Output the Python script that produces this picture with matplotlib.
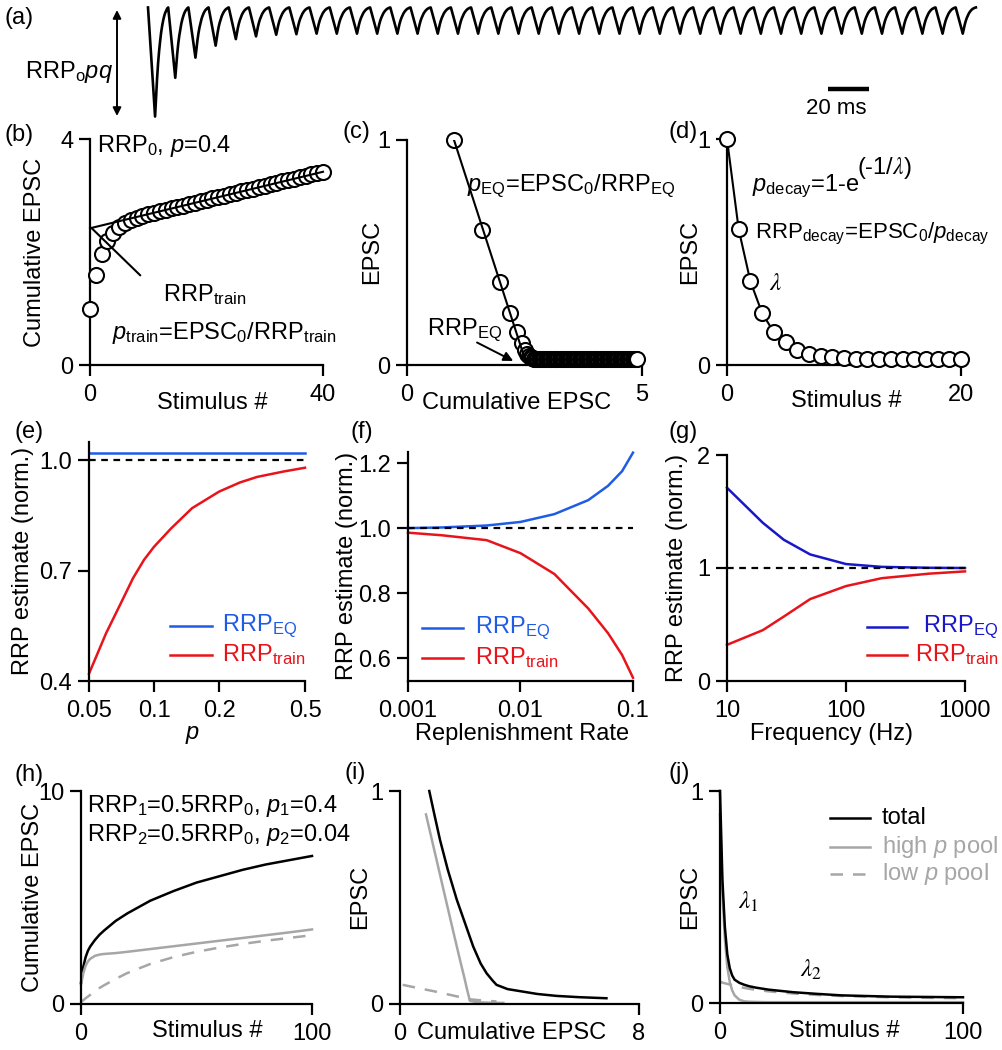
"""
Depression-train figure: RRP estimates from train, EQ and decay methods.
Panels (a)-(j), laid out on a 1002 x 1050 px canvas.
"""

import numpy as np
import matplotlib
matplotlib.use("Agg")
import matplotlib.pyplot as plt
from matplotlib.lines import Line2D
from matplotlib.ticker import NullLocator

plt.rcParams["font.family"] = ["Liberation Sans", "DejaVu Sans"]
plt.rcParams["font.size"] = 17
plt.rcParams["mathtext.fontset"] = "custom"
plt.rcParams["mathtext.rm"] = "Liberation Sans"
plt.rcParams["mathtext.it"] = "Liberation Sans:italic"
plt.rcParams["mathtext.bf"] = "Liberation Sans:bold"
plt.rcParams["mathtext.sf"] = "Liberation Sans"

W, H = 1002, 1050
BLUE  = "#1f5ce6"
NAVY  = "#1818c8"
RED   = "#e8141c"
GRAY  = "#a6a6a6"

# ── (a) example EPSC train, 100 Hz ───────────────────────────────────────────
STIM_INTERVAL_MS = 10
TRAIN_AMPS = [1.00, 0.645, 0.46, 0.35, 0.29, 0.265, 0.25, 0.245, 0.24, 0.24,
              0.24, 0.24, 0.24, 0.24, 0.24, 0.24, 0.24, 0.24, 0.24, 0.24,
              0.24, 0.24, 0.24, 0.24, 0.24, 0.24, 0.24, 0.24, 0.24, 0.24,
              0.24, 0.24, 0.24, 0.24, 0.24, 0.24, 0.24, 0.24, 0.24, 0.24,
              0.24]
# single-EPSC waveform (ms, normalised)
KERNEL_T = [0, 0.5, 1.0, 1.5, 2.0, 2.5, 3.0, 3.5, 4.0, 4.5,
            5.0, 5.5, 6.0, 6.5, 7.0, 7.5, 8.0, 8.5, 9.0, 9.5]
KERNEL_V = [0, -0.14, -0.28, -0.43, -0.57, -0.71, -0.86, -1.0, -0.82, -0.65,
            -0.51, -0.40, -0.31, -0.23, -0.17, -0.12, -0.08, -0.05, -0.03, -0.01]

# ── (b)-(d) single pool, p = 0.4: EPSC per stimulus (norm. to first) ────────
EPSC_SINGLE = [1.00, 0.60, 0.37, 0.23, 0.145, 0.10, 0.068, 0.05, 0.04, 0.034,
               0.030, 0.028, 0.027, 0.026, 0.025, 0.025, 0.025, 0.025, 0.025, 0.025,
               0.025, 0.025, 0.025, 0.025, 0.025, 0.025, 0.025, 0.025, 0.025, 0.025,
               0.025, 0.025, 0.025, 0.025, 0.025, 0.025, 0.025, 0.025, 0.025, 0.025,
               0.025, 0.025, 0.025, 0.025, 0.025, 0.025, 0.025, 0.025, 0.025, 0.025,
               0.025, 0.025, 0.025, 0.025, 0.025, 0.025, 0.025, 0.025, 0.025, 0.025,
               0.025, 0.025, 0.025, 0.025, 0.025, 0.025, 0.025, 0.025, 0.025, 0.025,
               0.025, 0.025, 0.025, 0.025, 0.025, 0.025, 0.025, 0.025, 0.025, 0.025,
               0.025, 0.025, 0.025, 0.025, 0.025, 0.025, 0.025, 0.025, 0.025, 0.025,
               0.025, 0.025, 0.025, 0.025, 0.025, 0.025, 0.025, 0.025, 0.025, 0.025]
N_STIM_B = 41
N_STIM_D = 21
FIT_B_X = [0, 40]
FIT_B_Y = [2.42, 3.42]
POINTER_B_X = [8.6, 0.3]
POINTER_B_Y = [1.59, 2.42]
FIT_C_X = [1.0, 2.55]
FIT_C_Y = [1.0, 0.0]

# ── (e) error vs release probability ────────────────────────────────────────
E_P        = [0.05, 0.06, 0.07, 0.08, 0.09, 0.10, 0.12, 0.15, 0.20, 0.25, 0.30, 0.40, 0.50]
E_RRP_EQ   = [1.02, 1.02, 1.02, 1.02, 1.02, 1.02, 1.02, 1.02, 1.02, 1.02, 1.02, 1.02, 1.02]
E_RRP_TRN  = [0.42, 0.53, 0.61, 0.68, 0.73, 0.765, 0.815, 0.87, 0.915, 0.94, 0.955, 0.97, 0.98]

# ── (f) error vs replenishment rate ─────────────────────────────────────────
F_RATE     = [0.001, 0.002, 0.005, 0.01, 0.02, 0.04, 0.06, 0.08, 0.1]
F_RRP_EQ   = [1.000, 1.002, 1.008, 1.019, 1.043, 1.086, 1.130, 1.175, 1.232]
F_RRP_TRN  = [0.986, 0.978, 0.963, 0.923, 0.859, 0.753, 0.677, 0.61, 0.54]

# ── (g) error vs stimulus frequency ─────────────────────────────────────────
G_FREQ     = [10, 20, 30, 50, 100, 200, 500, 1000]
G_RRP_EQ   = [1.71, 1.40, 1.25, 1.12, 1.035, 1.01, 1.002, 1.00]
G_RRP_TRN  = [0.32, 0.45, 0.57, 0.725, 0.84, 0.91, 0.95, 0.97]

# ── (h)-(j) two pools: high p (0.4) and low p (0.04) ─────────────────────────
H_STIM       = [0, 1, 2, 3, 4, 6, 8, 10, 15, 20, 30, 40, 50, 60, 70, 80, 90, 100]
H_CUM_TOTAL  = [1.0, 1.75, 2.2, 2.5, 2.7, 3.0, 3.25, 3.45, 3.9, 4.25, 4.85, 5.3, 5.7, 6.0, 6.3, 6.55, 6.75, 6.95]
H_CUM_HIGH   = [0.91, 1.45, 1.8, 2.0, 2.12, 2.26, 2.32, 2.35, 2.39, 2.45, 2.58, 2.71, 2.84, 2.97, 3.1, 3.23, 3.36, 3.5]
H_CUM_LOW    = [0.09, 0.18, 0.27, 0.35, 0.43, 0.6, 0.75, 0.88, 1.18, 1.45, 1.88, 2.2, 2.45, 2.65, 2.82, 2.97, 3.1, 3.23]

I_TOTAL_X = [0.98, 1.15, 1.34, 1.6, 1.9, 2.2, 2.45, 2.7, 2.9, 3.1, 3.23, 3.6, 4.12, 4.6, 5.24, 6.0, 6.91]
I_TOTAL_Y = [1.0, 0.89, 0.77, 0.63, 0.49, 0.37, 0.27, 0.19, 0.144, 0.11, 0.09, 0.07, 0.058, 0.047, 0.038, 0.032, 0.027]
I_HIGH_X  = [0.87, 1.45, 1.8, 2.02, 2.16, 2.25, 2.34, 2.6, 3.0, 3.46]
I_HIGH_Y  = [0.89, 0.54, 0.33, 0.2, 0.12, 0.065, 0.015, 0.008, 0.006, 0.005]
I_LOW_X   = [0.09, 0.6, 1.2, 1.8, 2.34, 2.8, 3.23]
I_LOW_Y   = [0.09, 0.075, 0.058, 0.039, 0.022, 0.016, 0.012]

J_STIM  = [0, 1, 2, 3, 4, 5, 6, 8, 10, 12, 15, 20, 30, 40, 50, 60, 70, 80, 90, 100]
J_TOTAL = [1.0, 0.58, 0.36, 0.23, 0.165, 0.13, 0.11, 0.095, 0.086, 0.079, 0.072, 0.063, 0.051, 0.043, 0.036, 0.033, 0.030, 0.029, 0.028, 0.027]
J_HIGH  = [0.89, 0.52, 0.30, 0.17, 0.10, 0.06, 0.036, 0.015, 0.008, 0.006, 0.005, 0.004, 0.004, 0.004, 0.004, 0.004, 0.004, 0.004, 0.004, 0.004]
J_LOW   = [0.10, 0.096, 0.093, 0.090, 0.087, 0.084, 0.081, 0.076, 0.071, 0.067, 0.062, 0.055, 0.045, 0.038, 0.033, 0.030, 0.027, 0.025, 0.024, 0.023]


# ─────────────────────────────────────────────────────────────────────────────
fig = plt.figure(figsize=(W / 100, H / 100), dpi=100)


def px_ax(l, t, r, b):
    """Axes from a pixel box (left, top, right, bottom), origin top-left."""
    return fig.add_axes([l / W, 1 - b / H, (r - l) / W, (b - t) / H])


def ftext(x, y, s, **kw):
    kw.setdefault("va", "center")
    return fig.text(x / W, 1 - y / H, s, **kw)


def fline(x0, x1, y, **kw):
    fig.add_artist(Line2D([x0 / W, x1 / W], [1 - y / H, 1 - y / H],
                          transform=fig.transFigure, **kw))


def style(ax, xticks, yticks, xlabels=None, ylabels=None):
    for s in ("top", "right"):
        ax.spines[s].set_visible(False)
    for s in ("left", "bottom"):
        ax.spines[s].set_linewidth(1.6)
    ax.tick_params(direction="out", length=8, width=1.6, labelsize=17, pad=6)
    ax.set_xticks(xticks)
    ax.set_yticks(yticks)
    if xlabels is not None:
        ax.set_xticklabels(xlabels)
    if ylabels is not None:
        ax.set_yticklabels(ylabels)
    ax.tick_params(axis="y", pad=4)
    ax.xaxis.set_minor_locator(NullLocator())
    ax.yaxis.set_minor_locator(NullLocator())
    ax.patch.set_alpha(0)


circ = dict(marker="o", ms=10.8, mfc="white", mec="black", mew=1.5,
            ls="none", clip_on=False, zorder=3)

# (a) ------------------------------------------------------------------------
ax = px_ax(148, 2, 988, 122)
t_all = np.concatenate([STIM_INTERVAL_MS * k + np.array(KERNEL_T) for k in range(len(TRAIN_AMPS))]
                       + [[STIM_INTERVAL_MS * len(TRAIN_AMPS)]])
v_all = np.concatenate([a * np.array(KERNEL_V) for a in TRAIN_AMPS] + [[0.0]])
ax.plot(t_all, v_all, color="black", lw=1.9, clip_on=False)
ax.set_xlim(0, 416)
ax.set_ylim(-1.05, 0.05)
ax.axis("off")
ax.plot([337, 357], [-0.75, -0.75], color="black", lw=3.2, solid_capstyle="butt", clip_on=False)
ax.text(341, -0.93, "20 ms", ha="center", va="center", fontsize=16)
ax.annotate("", xy=(117 / W, 1 - 10 / H), xytext=(117 / W, 1 - 116 / H),
            xycoords="figure fraction", textcoords="figure fraction",
            arrowprops=dict(arrowstyle="<|-|>", color="black", lw=1.4,
                            mutation_scale=12, shrinkA=0, shrinkB=0),
            annotation_clip=False)
ftext(113, 72, r"RRP$_{\rm o}$$pq$", ha="right", fontsize=17)
ftext(5, 18, "(a)", fontsize=17)

# (b) ------------------------------------------------------------------------
epsc = np.array(EPSC_SINGLE)
cum = np.cumsum(epsc)
ax = px_ax(90, 139, 323, 365)
ax.plot(np.arange(N_STIM_B), cum[:N_STIM_B], **circ)
ax.plot(FIT_B_X, FIT_B_Y, color="black", lw=1.5, zorder=4, clip_on=False)
ax.plot(POINTER_B_X, POINTER_B_Y, color="black", lw=1.5, zorder=4, clip_on=False)
ax.set_xlim(0, 40)
ax.set_ylim(0, 4)
style(ax, [0, 40], [0, 4])
ftext(97, 146, r"RRP$_0$, $p$=0.4", fontsize=17)
ftext(163, 295, r"RRP$_{\rm train}$", fontsize=17)
ftext(112, 333, r"$p_{\rm train}$=EPSC$_0$/RRP$_{\rm train}$", fontsize=17)
ftext(35, 252, "Cumulative EPSC", rotation=90, ha="center", fontsize=17)
ftext(212, 403, "Stimulus #", ha="center", fontsize=17)
ftext(5, 135, "(b)", fontsize=17)

# (c) ------------------------------------------------------------------------
ax = px_ax(407, 140, 642, 365)
ax.plot(cum, epsc, **circ)
ax.plot(FIT_C_X, FIT_C_Y, color="black", lw=1.5, zorder=4)
ax.annotate("", xy=(2.26, 0.018), xytext=(1.49, 0.10),
            arrowprops=dict(arrowstyle="-|>", color="black", lw=1.4,
                            mutation_scale=14, shrinkA=0, shrinkB=0))
ax.set_xlim(0, 5)
ax.set_ylim(0, 1)
style(ax, [0, 5], [0, 1])
ftext(467, 186, r"$p_{\rm EQ}$=EPSC$_0$/RRP$_{\rm EQ}$", fontsize=17)
ftext(427, 330, r"RRP$_{\rm EQ}$", fontsize=17)
ftext(372, 252, "EPSC", rotation=90, ha="center", fontsize=17)
ftext(517, 403, "Cumulative EPSC", ha="center", fontsize=17)
ftext(343, 132, "(c)", fontsize=17)

# (d) ------------------------------------------------------------------------
ax = px_ax(727, 139, 961, 365)
ax.plot(np.arange(N_STIM_D), epsc[:N_STIM_D], color="black", lw=1.5, zorder=2, clip_on=False)
ax.plot(np.arange(N_STIM_D), epsc[:N_STIM_D], **circ)
ax.set_xlim(0, 20)
ax.set_ylim(0, 1)
style(ax, [0, 20], [0, 1])
ftext(752, 186, r"$p_{\rm decay}$=1-e", fontsize=17)
ftext(857, 168, r"(-1/$\lambda$)", fontsize=17, math_fontfamily="stix")
ftext(755, 234, r"RRP$_{\rm decay}$=EPSC$_0$/$p_{\rm decay}$", fontsize=16)
ftext(769, 283, r"$\lambda$", fontsize=18, math_fontfamily="stix")
ftext(690, 252, "EPSC", rotation=90, ha="center", fontsize=17)
ftext(846, 401, "Stimulus #", ha="center", fontsize=17)
ftext(668, 132, "(d)", fontsize=17)

# (e) ------------------------------------------------------------------------
ax = px_ax(89, 442, 305, 681)
ax.set_xscale("log")
ax.plot(E_P, E_RRP_EQ, color=BLUE, lw=1.8, clip_on=False)
ax.plot(E_P, E_RRP_TRN, color=RED, lw=1.8, clip_on=False)
ax.plot([E_P[0], E_P[-1]], [1.0, 1.0], color="black", lw=1.6, ls=(0, (3, 2.5)))
ax.set_xlim(0.05, 0.5)
ax.set_ylim(0.4, 1.05)
style(ax, [0.05, 0.1, 0.2, 0.5], [0.4, 0.7, 1.0], ["0.05", "0.1", "0.2", "0.5"], ["0.4", "0.7", "1.0"])
fline(170, 212, 626, color=BLUE, lw=1.8)
fline(170, 212, 655, color=RED, lw=1.8)
ftext(222, 626, r"RRP$_{\rm EQ}$", color=BLUE, fontsize=17)
ftext(222, 655, r"RRP$_{\rm train}$", color=RED, fontsize=17)
ftext(23, 561, "RRP estimate (norm.)", rotation=90, ha="center", fontsize=17)
ftext(192, 735, r"$p$", ha="center", fontsize=17)
ftext(14, 432, "(e)", fontsize=17)

# (f) ------------------------------------------------------------------------
ax = px_ax(408, 452, 633, 681)
ax.set_xscale("log")
ax.plot(F_RATE, F_RRP_EQ, color=BLUE, lw=1.8, clip_on=False)
ax.plot(F_RATE, F_RRP_TRN, color=RED, lw=1.8, clip_on=False)
ax.plot([F_RATE[0], F_RATE[-1]], [1.0, 1.0], color="black", lw=1.6, ls=(0, (3, 2.5)))
ax.set_xlim(0.001, 0.1)
ax.set_ylim(0.53, 1.234)
style(ax, [0.001, 0.01, 0.1], [0.6, 0.8, 1.0, 1.2], ["0.001", "0.01", "0.1"], ["0.6", "0.8", "1.0", "1.2"])
fline(422, 463, 628, color=BLUE, lw=1.8)
fline(422, 463, 658, color=RED, lw=1.8)
ftext(475, 628, r"RRP$_{\rm EQ}$", color=BLUE, fontsize=17)
ftext(475, 658, r"RRP$_{\rm train}$", color=RED, fontsize=17)
ftext(347, 566, "RRP estimate (norm.)", rotation=90, ha="center", fontsize=17)
ftext(522, 734, "Replenishment Rate", ha="center", fontsize=17)
ftext(350, 432, "(f)", fontsize=17)

# (g) ------------------------------------------------------------------------
ax = px_ax(727, 455, 965, 681)
ax.set_xscale("log")
ax.plot(G_FREQ, G_RRP_EQ, color=NAVY, lw=1.8, clip_on=False)
ax.plot(G_FREQ, G_RRP_TRN, color=RED, lw=1.8, clip_on=False)
ax.plot([G_FREQ[0], G_FREQ[-1]], [1.0, 1.0], color="black", lw=1.6, ls=(0, (3, 2.5)))
ax.set_xlim(10, 1000)
ax.set_ylim(0, 2)
style(ax, [10, 100, 1000], [0, 1, 2], ["10", "100", "1000"], ["0", "1", "2"])
fline(867, 907, 627, color=NAVY, lw=1.8)
fline(867, 907, 655, color=RED, lw=1.8)
ftext(923, 627, r"RRP$_{\rm EQ}$", color=NAVY, fontsize=17)
ftext(915, 655, r"RRP$_{\rm train}$", color=RED, fontsize=17)
ftext(677, 568, "RRP estimate (norm.)", rotation=90, ha="center", fontsize=17)
ftext(832, 734, "Frequency (Hz)", ha="center", fontsize=17)
ftext(668, 432, "(g)", fontsize=17)

# (h) ------------------------------------------------------------------------
ax = px_ax(81, 791, 312, 1004)
ax.plot(H_STIM, H_CUM_TOTAL, color="black", lw=1.8, clip_on=False)
ax.plot(H_STIM, H_CUM_HIGH, color=GRAY, lw=1.8, clip_on=False)
ax.plot(H_STIM, H_CUM_LOW, color=GRAY, lw=1.8, ls=(0, (5, 4)), clip_on=False)
ax.set_xlim(0, 100)
ax.set_ylim(0, 10)
style(ax, [0, 100], [0, 10])
ftext(87, 806, r"RRP$_1$=0.5RRP$_0$, $\mathit{p_1}$=0.4", fontsize=17)
ftext(87, 835, r"RRP$_2$=0.5RRP$_0$, $\mathit{p_2}$=0.04", fontsize=17)
ftext(33, 897, "Cumulative EPSC", rotation=90, ha="center", fontsize=17)
ftext(207, 1031, "Stimulus #", ha="center", fontsize=17)
ftext(14, 775, "(h)", fontsize=17)

# (i) ------------------------------------------------------------------------
ax = px_ax(400, 791, 639, 1004)
ax.plot(I_TOTAL_X, I_TOTAL_Y, color="black", lw=1.8, clip_on=False)
ax.plot(I_HIGH_X, I_HIGH_Y, color=GRAY, lw=1.8, clip_on=False)
ax.plot(I_LOW_X, I_LOW_Y, color=GRAY, lw=1.8, ls=(0, (5, 4)), clip_on=False)
ax.set_xlim(0, 8)
ax.set_ylim(0, 1)
style(ax, [0, 8], [0, 1])
ftext(360, 897, "EPSC", rotation=90, ha="center", fontsize=17)
ftext(512, 1033, "Cumulative EPSC", ha="center", fontsize=17)
ftext(345, 773, "(i)", fontsize=17)

# (j) ------------------------------------------------------------------------
ax = px_ax(720, 791, 963, 1003)
ax.plot(J_STIM, J_TOTAL, color="black", lw=1.8, zorder=3, clip_on=False)
ax.plot(J_STIM, J_HIGH, color=GRAY, lw=1.8, clip_on=False)
ax.plot(J_STIM, J_LOW, color=GRAY, lw=1.8, ls=(0, (5, 4)), clip_on=False)
ax.set_xlim(0, 100)
ax.set_ylim(0, 1)
style(ax, [0, 100], [0, 1])
fline(830, 870, 818, color="black", lw=1.8)
fline(830, 870, 847, color=GRAY, lw=1.8)
fline(830, 870, 874, color=GRAY, lw=1.8, ls=(0, (5, 4)))
ftext(882, 818, "total", fontsize=17)
ftext(882, 847, r"high $p$ pool", color=GRAY, fontsize=17)
ftext(882, 874, r"low $p$ pool", color=GRAY, fontsize=17)
ftext(738, 902, r"$\lambda_1$", fontsize=18, math_fontfamily="stix")
ftext(800, 970, r"$\lambda_2$", fontsize=18, math_fontfamily="stix")
ftext(690, 897, "EPSC", rotation=90, ha="center", fontsize=17)
ftext(844, 1031, "Stimulus #", ha="center", fontsize=17)
ftext(668, 773, "(j)", fontsize=17)

fig.savefig("out.png", dpi=100)
plt.close(fig)
